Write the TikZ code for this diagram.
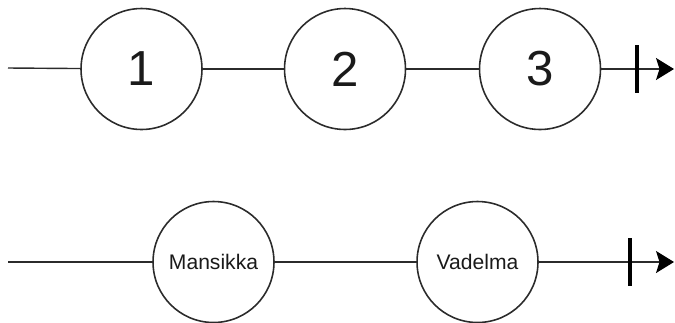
\documentclass[tikz,border=0pt]{standalone}
\usepackage{fontspec}
\setmainfont{Liberation Sans}
\usetikzlibrary{arrows.meta}
\definecolor{seqLine}{HTML}{2B2B2B}
\definecolor{seqText}{HTML}{1A1A1A}

\begin{document}
\begin{tikzpicture}[x=0.02cm,y=-0.02cm,
  state/.style={circle,draw=seqLine,line width=0.9pt,minimum size=2.42cm,inner sep=0pt,text=seqText},
  link/.style={draw=seqLine,line width=0.8pt},
  tip/.style={-{Stealth[length=0.36cm,width=0.44cm,inset=0.07cm,color=black,fill=black]}},
  stopbar/.style={draw=black,line width=1.8pt}]
  \useasboundingbox (0,0) rectangle (675,322);
  % upper row
  \coordinate (s1) at (8,68);
  \node[state,font=\fontsize{28}{30}\selectfont] (n1) at (141.5,69) {1};
  \node[state,font=\fontsize{28}{30}\selectfont] (n2) at (345,69) {2};
  \node[state,font=\fontsize{28}{30}\selectfont] (n3) at (540,69) {3};
  \coordinate (b1) at (637,69);
  \coordinate (e1) at (674,69);
  \draw[link] (s1) -- (n1);
  \draw[link] (n1) -- (n2);
  \draw[link] (n2) -- (n3);
  \draw[link,tip] (n3) -- (e1);
  \draw[stopbar] ([yshift=0.48cm]b1) -- ([yshift=-0.48cm]b1);
  % lower row
  \coordinate (s2) at (8,262);
  \node[state,font=\fontsize{12}{14}\selectfont] (m) at (213.5,262) {Mansikka};
  \node[state,font=\fontsize{12}{14}\selectfont] (v) at (477.5,262) {Vadelma};
  \coordinate (b2) at (630,262);
  \coordinate (e2) at (674,262);
  \draw[link] (s2) -- (m);
  \draw[link] (m) -- (v);
  \draw[link,tip] (v) -- (e2);
  \draw[stopbar] ([yshift=0.48cm]b2) -- ([yshift=-0.48cm]b2);
\end{tikzpicture}
\end{document}
